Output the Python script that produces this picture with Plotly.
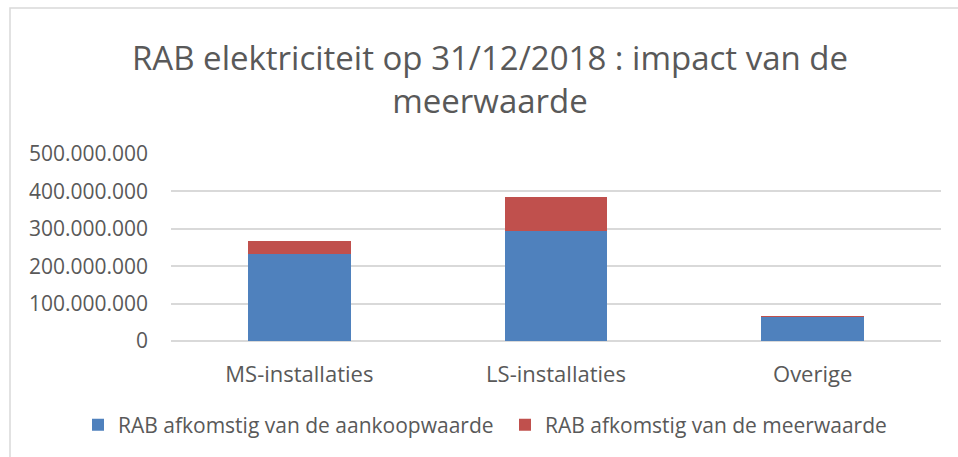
import plotly.graph_objects as go

categories = ["MS-installaties", "LS-installaties", "Overige"]
aankoop = [232_500_000, 294_000_000, 64_500_000]
meerwaarde = [35_500_000, 91_000_000, 1_000_000]
series_names = ["RAB afkomstig van de aankoopwaarde", "RAB afkomstig van de meerwaarde"]
title_text = "RAB elektriciteit op 31/12/2018 : impact van de<br>meerwaarde"

W, H = 958, 457
L, R, T, B = 171, 17, 154, 116
pw, ph = W - L - R, H - T - B

def px_x(p):
    return (p - L) / pw

def px_y(p):
    return (H - B - p) / ph

FONT = "Open Sans"
GREY = "#595959"

fig = go.Figure()
fig.add_trace(go.Bar(x=categories, y=aankoop, name=series_names[0], legend="legend",
                     marker=dict(color="#4F81BD", line=dict(width=0))))
fig.add_trace(go.Bar(x=categories, y=meerwaarde, name=series_names[1], legend="legend2",
                     marker=dict(color="#C0504D", line=dict(width=0))))

leg_common = dict(orientation="h", xanchor="left", xref="container", yref="container",
                  y=1 - 425 / H, yanchor="middle", font=dict(size=21, color=GREY),
                  bgcolor="rgba(0,0,0,0)")

fig.update_layout(
    width=W, height=H,
    margin=dict(l=L, r=R, t=T, b=B, autoexpand=False),
    barmode="stack", bargap=0.6,
    paper_bgcolor="white", plot_bgcolor="white",
    separators=",.",
    font=dict(family=FONT, color=GREY, size=21),
    title=dict(text=title_text, x=490 / W, xanchor="center", y=1 - 70 / H, yanchor="middle",
               font=dict(family=FONT, size=33, color=GREY)),
    showlegend=True,
    legend=dict(x=78 / W, **leg_common),
    legend2=dict(x=505 / W, **leg_common),
    xaxis=dict(showgrid=False, showline=False, ticks="", tickfont=dict(size=22, color=GREY),
               ticklabelstandoff=18),
    yaxis=dict(range=[0, 500_000_000], dtick=100_000_000, tickformat=",d", showgrid=True,
               gridcolor="#d9d9d9", gridwidth=1.5, zeroline=True, zerolinecolor="#d9d9d9",
               zerolinewidth=1.5, tickfont=dict(size=21, color=GREY), ticks="", ticklabelstandoff=22),
    shapes=[dict(type="rect", xref="paper", yref="paper", x0=px_x(10), x1=px_x(1000),
                 y0=px_y(8), y1=px_y(600), line=dict(color="#d9d9d9", width=1.5), layer="below")],
)

fig.write_html("out.html", config={"displayModeBar": False},
               post_script="document.body.style.margin='0';document.body.style.overflow='hidden';")
